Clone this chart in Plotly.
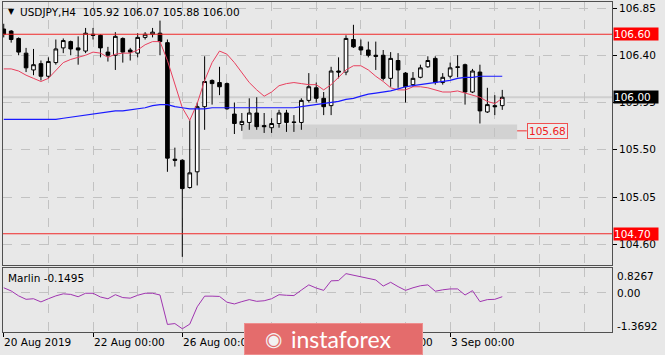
import plotly.graph_objects as go

# ---------------- data (USDJPY H4) ----------------
bars = list(range(68))
opens = [106.65, 106.63, 106.56, 106.42, 106.26, 106.32, 106.20, 106.33, 106.47, 106.53,
         106.47, 106.44, 106.60, 106.59, 106.43, 106.40, 106.56, 106.45, 106.42, 106.57,
         106.60, 106.61, 106.52, 105.41, 105.40, 105.14, 105.29, 105.91, 106.16, 106.14,
         106.13, 105.84, 105.74, 105.76, 105.85, 105.73, 105.71, 105.75, 105.85, 105.765,
         105.76, 105.97, 106.09, 105.99, 105.92, 106.25, 106.24, 106.55, 106.48, 106.45,
         106.40, 106.40, 106.18, 106.35, 106.23, 106.12, 106.19, 106.29, 106.37, 106.14,
         106.20, 106.29, 106.31, 106.05, 106.24, 105.86, 105.92, 105.92]
highs = [106.70, 106.64, 106.57, 106.47, 106.46, 106.35, 106.38, 106.55, 106.56, 106.54,
         106.58, 106.66, 106.66, 106.60, 106.48, 106.62, 106.57, 106.47, 106.61, 106.62,
         106.66, 106.73, 106.55, 105.52, 105.41, 105.78, 105.95, 106.39, 106.17, 106.29,
         106.14, 105.95, 105.85, 105.99, 106.00, 105.85, 105.80, 105.88, 105.88, 105.83,
         105.99, 106.23, 106.14, 106.05, 106.29, 106.38, 106.59, 106.69, 106.55, 106.53,
         106.53, 106.45, 106.43, 106.42, 106.24, 106.24, 106.31, 106.39, 106.39, 106.23,
         106.33, 106.40, 106.32, 106.27, 106.31, 106.09, 106.02, 106.07]
lows = [106.57, 106.52, 106.40, 106.24, 106.21, 106.16, 106.18, 106.31, 106.42, 106.40,
        106.31, 106.42, 106.55, 106.38, 106.34, 106.26, 106.33, 106.35, 106.38, 106.55,
        106.57, 106.40, 105.29, 105.34, 104.48, 105.13, 105.16, 105.69, 105.93, 106.02,
        105.88, 105.65, 105.68, 105.69, 105.69, 105.66, 105.66, 105.71, 105.67, 105.67,
        105.69, 105.95, 105.95, 105.83, 105.83, 106.18, 106.21, 106.47, 106.40, 106.38,
        106.26, 106.16, 106.10, 106.09, 105.95, 106.10, 106.18, 106.28, 106.12, 106.12,
        106.18, 106.19, 105.93, 106.04, 105.75, 105.85, 105.83, 105.88]
closes = [106.60, 106.55, 106.43, 106.28, 106.31, 106.20, 106.34, 106.46, 106.54, 106.46,
          106.45, 106.61, 106.59, 106.47, 106.40, 106.58, 106.43, 106.43, 106.57, 106.60,
          106.62, 106.53, 105.42, 105.40, 105.13, 105.28, 105.91, 106.15, 106.13, 106.10,
          105.89, 105.75, 105.77, 105.85, 105.72, 105.72, 105.75, 105.85, 105.76, 105.76,
          105.97, 106.10, 105.99, 105.91, 106.25, 106.24, 106.56, 106.48, 106.45, 106.40,
          106.39, 106.18, 106.37, 106.26, 106.10, 106.18, 106.28, 106.35, 106.14, 106.19,
          106.28, 106.285, 106.05, 106.25, 105.87, 105.93, 105.91, 106.00]
red_ma = [106.27, 106.27, 106.25, 106.21, 106.18, 106.15, 106.18, 106.25, 106.33, 106.36,
          106.38, 106.40, 106.43, 106.42, 106.38, 106.41, 106.42, 106.42, 106.45, 106.50,
          106.53, 106.53, 106.35, 106.13, 105.90, 105.78, 105.94, 106.16, 106.33, 106.44,
          106.41, 106.33, 106.23, 106.14, 106.07, 106.01, 106.05, 106.11, 106.13, 106.14,
          106.13, 106.12, 106.12, 106.07, 106.12, 106.19, 106.26, 106.30, 106.30, 106.26,
          106.20, 106.15, 106.09, 106.07, 106.07, 106.10, 106.10, 106.09, 106.07, 106.05,
          106.05, 106.06, 106.04, 106.02, 106.00, 105.96, 105.94, 105.99]
blue_ma = [105.79, 105.79, 105.79, 105.79, 105.79, 105.79, 105.79, 105.79, 105.80, 105.81,
           105.82, 105.83, 105.84, 105.85, 105.86, 105.87, 105.87, 105.88, 105.89, 105.90,
           105.92, 105.93, 105.93, 105.91, 105.90, 105.89, 105.89, 105.89, 105.90, 105.90,
           105.90, 105.90, 105.90, 105.90, 105.90, 105.90, 105.90, 105.90, 105.90, 105.90,
           105.91, 105.92, 105.93, 105.94, 105.95, 105.96, 105.98, 105.99, 106.01, 106.03,
           106.04, 106.05, 106.06, 106.08, 106.10, 106.11, 106.12, 106.13, 106.14, 106.15,
           106.16, 106.18, 106.19, 106.19, 106.20, 106.20, 106.20, 106.20]
marlin = [0.16, 0.05, -0.12, -0.24, -0.22, -0.33, -0.22, -0.12, -0.05, -0.07,
          -0.15, -0.03, -0.03, -0.16, -0.22, -0.08, -0.18, -0.20, -0.10, -0.03,
          -0.03, -0.09, -1.11, -1.08, -1.26, -1.10, -0.50, -0.13, -0.13, -0.14,
          -0.34, -0.40, -0.32, -0.25, -0.31, -0.29, -0.22, -0.08, -0.10, -0.11,
          0.08, 0.26, 0.15, 0.07, 0.40, 0.41, 0.65, 0.59, 0.54, 0.48,
          0.43, 0.22, 0.35, 0.20, 0.07, 0.16, 0.23, 0.26, 0.04, 0.09,
          0.12, 0.12, -0.09, 0.06, -0.32, -0.25, -0.24, -0.1495]

price_ticks = [104.60, 105.05, 105.50, 105.95, 106.40, 106.85]
time_tick_bars = [0, 12, 24, 36, 48, 60]
time_tick_labels = ["20 Aug 2019", "22 Aug 00:00", "26 Aug 00:00", "28 Aug 00:00", "30 Aug 00:00", "3 Sep 00:00"]
resistance = 106.60
support = 104.70
last_price = 106.00
target = 105.68
zone_start_bar, zone_end_bar = 32.1, 69.0
zone_low, zone_high = 105.60, 105.74
marlin_max, marlin_min = 0.8267, -1.3692
title_text = "USDJPY,H4  105.92 106.07 105.88 106.00"
marlin_text = "Marlin -0.1495"

# ---------------- layout helpers ----------------
W, H = 665, 355
def px(x):
    return x / W
def py(y):
    return 1 - y / H

BG = "#e8e8e8"
GRID = "#c2c2c2"
FONT = "DejaVu Sans"

fig = go.Figure()
fig.add_trace(go.Candlestick(
    x=bars, open=opens, high=highs, low=lows, close=closes,
    increasing=dict(line=dict(color="#000000", width=1), fillcolor="#ffffff"),
    decreasing=dict(line=dict(color="#000000", width=1), fillcolor="#000000"),
    whiskerwidth=0, xaxis="x", yaxis="y", hoverinfo="skip"))
fig.add_trace(go.Scatter(x=bars, y=red_ma, mode="lines",
                         line=dict(color="#e8405e", width=1), xaxis="x", yaxis="y"))
fig.add_trace(go.Scatter(x=bars, y=blue_ma, mode="lines",
                         line=dict(color="#1a1aff", width=1.2), xaxis="x", yaxis="y"))
fig.add_trace(go.Scatter(x=bars, y=marlin, mode="lines",
                         line=dict(color="#a035b0", width=1), xaxis="x2", yaxis="y2"))

xr = [-0.1, 81.75]
xdom = [px(3), px(612)]
fig.update_layout(
    width=W, height=H, margin=dict(l=0, r=0, t=0, b=0),
    paper_bgcolor=BG, plot_bgcolor=BG, showlegend=False,
    font=dict(family=FONT, size=10.5, color="#000"),
    boxgap=0.3,
    xaxis=dict(domain=xdom, range=xr, anchor="y", tickmode="linear", tick0=0, dtick=6,
               showgrid=True, gridcolor=GRID, griddash="dash", gridwidth=1,
               showticklabels=False, ticks="", showline=True, mirror=True,
               linecolor="#505050", zeroline=False, rangeslider=dict(visible=False)),
    yaxis=dict(domain=[py(265), py(2)], range=[104.4024, 106.9071], anchor="x", side="right",
               tickmode="array", tickvals=price_ticks, ticktext=[f"{v:.2f}" for v in price_ticks],
               ticks="outside", ticklen=4, tickcolor="#000", showgrid=True, gridcolor=GRID,
               griddash="dash", showline=True, mirror=True, linecolor="#505050", zeroline=False,
               tickfont=dict(family=FONT, size=10.5, color="#000")),
    xaxis2=dict(domain=xdom, range=xr, anchor="y2", tickmode="array", tickvals=time_tick_bars,
                ticks="outside", ticklen=4, tickcolor="#000", showticklabels=False,
                showgrid=True, gridcolor=GRID, griddash="dash",
                minor=dict(tickmode="linear", tick0=0, dtick=6, showgrid=True, gridcolor=GRID,
                           griddash="dash", ticks=""),
                showline=True, mirror=True, linecolor="#505050", zeroline=False),
    yaxis2=dict(domain=[py(332), py(268)], range=[-1.372, 0.845], anchor="x2", side="right",
                tickmode="array", tickvals=[0], showticklabels=False, ticks="",
                showgrid=True, gridcolor=GRID, griddash="dash", showline=True, mirror=True,
                linecolor="#505050", zeroline=False),
)

shapes = []
shapes.append(dict(type="rect", xref="x", yref="y", x0=zone_start_bar, x1=zone_end_bar,
                   y0=zone_low, y1=zone_high, fillcolor="#d2d2d2", line=dict(width=0), layer="below"))
shapes.append(dict(type="line", xref="x domain", yref="y", x0=0, x1=1, y0=last_price, y1=last_price,
                   line=dict(color="#cfcfcf", width=2), layer="below"))
for lvl in (resistance, support):
    shapes.append(dict(type="line", xref="x domain", yref="y", x0=0, x1=1, y0=lvl, y1=lvl,
                       line=dict(color="#f02828", width=1)))
shapes.append(dict(type="line", xref="x", yref="y", x0=zone_end_bar, x1=zone_end_bar + 1.3,
                   y0=target, y1=target, line=dict(color="#f03030", width=1)))
fig.update_layout(shapes=shapes)

ann = []
ann.append(dict(text="▼", xref="paper", yref="paper", x=px(6), y=py(12), xanchor="left", yanchor="middle",
                showarrow=False, font=dict(size=8, color="#000")))
ann.append(dict(text=title_text, xref="paper", yref="paper", x=px(18), y=py(12), xanchor="left",
                yanchor="middle", showarrow=False, font=dict(size=10.5, color="#000")))
ann.append(dict(text=marlin_text, xref="paper", yref="paper", x=px(6), y=py(278), xanchor="left",
                yanchor="middle", showarrow=False, font=dict(size=10.5, color="#000")))
for v, yy in ((marlin_max, 276), (0.0, 293), (marlin_min, 326)):
    ann.append(dict(text=(f"{v:.4f}" if v != 0 else "0.00"), xref="paper", yref="paper",
                    x=px(615), y=py(yy), xanchor="left", yanchor="middle", showarrow=False,
                    font=dict(size=10.5, color="#000")))
for b, lab in zip(time_tick_bars, time_tick_labels):
    ann.append(dict(text=lab, xref="x2", yref="paper", x=b, y=py(342), xanchor="left",
                    yanchor="middle", xshift=-2 if b == 0 else -1, showarrow=False,
                    font=dict(size=10.5, color="#000")))
for v, bg in ((resistance, "#ff0000"), (last_price, "#000000"), (support, "#ff0000")):
    ann.append(dict(text=f"{v:.2f}", xref="paper", yref="y", x=px(613), y=v, xanchor="left",
                    yanchor="middle", showarrow=False, bgcolor=bg, width=44, height=12,
                    align="left", borderpad=0, font=dict(size=10.5, color="#ffffff")))
ann.append(dict(text=f"{target:.2f}", xref="x", yref="y", x=zone_end_bar + 1.3, y=target,
                xanchor="left", yanchor="middle", showarrow=False, bgcolor="#ececec",
                bordercolor="#f05050", borderwidth=1, borderpad=1,
                font=dict(size=10.5, color="#f02020")))
# instaforex logo (drawn last so it covers the axis labels beneath it)
ann.append(dict(text=" ", xref="paper", yref="paper", x=px(244), y=py(355), xanchor="left",
                yanchor="bottom", showarrow=False, bgcolor="#e46c6c", bordercolor="#ee8e8e",
                borderwidth=1, borderpad=0, width=177, height=30, font=dict(size=10)))
ann.append(dict(text="◉", xref="paper", yref="paper", x=px(273), y=py(339), xanchor="center",
                yanchor="middle", showarrow=False, font=dict(family="DejaVu Sans", size=20, color="#f2f2f2")))
ann.append(dict(text="instaforex", xref="paper", yref="paper", x=px(289), y=py(339), xanchor="left",
                yanchor="middle", showarrow=False, font=dict(family="Lato", size=23, color="#ffffff")))
fig.update_layout(annotations=ann)

fig.write_html("out.html")
